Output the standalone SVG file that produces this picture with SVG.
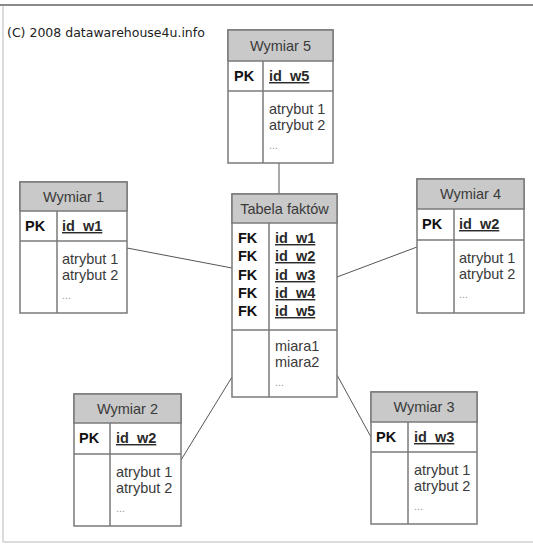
<svg xmlns="http://www.w3.org/2000/svg" width="533" height="544" viewBox="0 0 533 544">
<style>
.box{fill:#ffffff;stroke:#7a7a7a;stroke-width:1.5}
.hdr{fill:#c9c9c9;stroke:#7a7a7a;stroke-width:1.5}
.ln{stroke:#7a7a7a;stroke-width:1.5;fill:none}
.con{stroke:#555;stroke-width:1;fill:none}
text{font-family:"Liberation Sans",Arial,sans-serif;font-size:14.5px;fill:#3a3a3a}
.h{text-anchor:middle;fill:#3a3a3a}
.k{font-weight:bold;fill:#111}
.id{font-weight:bold;fill:#2a2a2a;text-decoration:underline}
.dots{fill:#999;font-size:11px}
.copy{font-family:"DejaVu Sans",Verdana,sans-serif;font-size:12.5px;fill:#222}
</style>
<rect x="0" y="0" width="533" height="544" fill="#ffffff"/>
<g id="frame">
<line x1="0" y1="5" x2="533" y2="5" stroke="#8a8a8a" stroke-width="2"/>
<line x1="3" y1="6" x2="3" y2="542" stroke="#d0d0d0" stroke-width="1.5"/>
<line x1="3" y1="542" x2="533" y2="542" stroke="#d0d0d0" stroke-width="1.5"/>
</g>
<text class="copy" x="7" y="37">(C) 2008 datawarehouse4u.info</text>
<g id="connectors">
<line class="con" x1="279" y1="163" x2="279" y2="194"/>
<line class="con" x1="127" y1="248" x2="232" y2="268"/>
<line class="con" x1="337" y1="277" x2="417" y2="247"/>
<line class="con" x1="181" y1="460" x2="232" y2="377"/>
<line class="con" x1="337" y1="375" x2="371" y2="437"/>
</g>
<g id="wymiar5">
<rect class="box" x="228" y="30" width="105" height="133"/>
<rect class="hdr" x="228" y="30" width="105" height="31"/>
<line class="ln" x1="228" y1="91" x2="333" y2="91"/>
<line class="ln" x1="263" y1="61" x2="263" y2="163"/>
<text class="h" x="280.5" y="51">Wymiar 5</text>
<text class="k" x="234" y="81">PK</text>
<text class="id" x="269" y="81">id_w5</text>
<text x="269" y="114">atrybut 1</text>
<text x="269" y="130">atrybut 2</text>
<text class="dots" x="269" y="149">...</text>
</g>
<g id="wymiar1">
<rect class="box" x="20" y="182" width="107" height="131"/>
<rect class="hdr" x="20" y="182" width="107" height="29"/>
<line class="ln" x1="20" y1="241" x2="127" y2="241"/>
<line class="ln" x1="57" y1="211" x2="57" y2="313"/>
<text class="h" x="73.5" y="202">Wymiar 1</text>
<text class="k" x="25" y="231">PK</text>
<text class="id" x="62" y="231">id_w1</text>
<text x="62" y="264">atrybut 1</text>
<text x="62" y="280">atrybut 2</text>
<text class="dots" x="62" y="299">...</text>
</g>
<g id="fakty">
<rect class="box" x="232" y="194" width="105" height="203"/>
<rect class="hdr" x="232" y="194" width="105" height="29"/>
<line class="ln" x1="232" y1="330" x2="337" y2="330"/>
<line class="ln" x1="269" y1="223" x2="269" y2="397"/>
<text class="h" x="284.5" y="214">Tabela faktów</text>
<text class="k" x="238" y="243">FK</text>
<text class="k" x="238" y="261">FK</text>
<text class="k" x="238" y="280">FK</text>
<text class="k" x="238" y="298">FK</text>
<text class="k" x="238" y="316">FK</text>
<text class="id" x="275" y="243">id_w1</text>
<text class="id" x="275" y="261">id_w2</text>
<text class="id" x="275" y="280">id_w3</text>
<text class="id" x="275" y="298">id_w4</text>
<text class="id" x="275" y="316">id_w5</text>
<text x="275" y="351">miara1</text>
<text x="275" y="367">miara2</text>
<text class="dots" x="275" y="386">...</text>
</g>
<g id="wymiar4">
<rect class="box" x="417" y="179" width="107" height="134"/>
<rect class="hdr" x="417" y="179" width="107" height="30"/>
<line class="ln" x1="417" y1="240" x2="524" y2="240"/>
<line class="ln" x1="454" y1="209" x2="454" y2="313"/>
<text class="h" x="470.5" y="199">Wymiar 4</text>
<text class="k" x="422" y="229">PK</text>
<text class="id" x="459" y="229">id_w2</text>
<text x="459" y="263">atrybut 1</text>
<text x="459" y="279">atrybut 2</text>
<text class="dots" x="459" y="298">...</text>
</g>
<g id="wymiar2">
<rect class="box" x="74" y="394" width="107" height="132"/>
<rect class="hdr" x="74" y="394" width="107" height="29"/>
<line class="ln" x1="74" y1="454" x2="181" y2="454"/>
<line class="ln" x1="110" y1="423" x2="110" y2="526"/>
<text class="h" x="127.5" y="414">Wymiar 2</text>
<text class="k" x="79" y="443">PK</text>
<text class="id" x="116" y="443">id_w2</text>
<text x="116" y="477">atrybut 1</text>
<text x="116" y="493">atrybut 2</text>
<text class="dots" x="116" y="512">...</text>
</g>
<g id="wymiar3">
<rect class="box" x="371" y="392" width="106" height="132"/>
<rect class="hdr" x="371" y="392" width="106" height="30"/>
<line class="ln" x1="371" y1="452" x2="477" y2="452"/>
<line class="ln" x1="408" y1="422" x2="408" y2="524"/>
<text class="h" x="424" y="412">Wymiar 3</text>
<text class="k" x="376" y="442">PK</text>
<text class="id" x="414" y="442">id_w3</text>
<text x="414" y="475">atrybut 1</text>
<text x="414" y="491">atrybut 2</text>
<text class="dots" x="414" y="510">...</text>
</g>
</svg>
